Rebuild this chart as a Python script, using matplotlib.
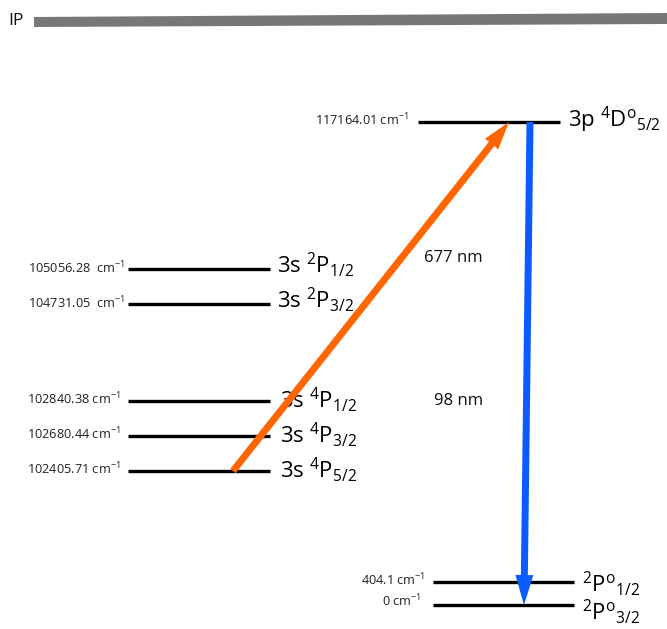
import matplotlib
matplotlib.use("Agg")
import matplotlib.pyplot as plt
from matplotlib.patches import Polygon, FancyArrow

plt.rcParams['font.family'] = ['Open Sans', 'DejaVu Sans']
plt.rcParams['mathtext.fontset'] = 'custom'
plt.rcParams['mathtext.rm'] = 'Open Sans'
plt.rcParams['mathtext.it'] = 'Open Sans:italic'
plt.rcParams['mathtext.bf'] = 'Open Sans:bold'

# Energy levels (cm^-1) and their term symbols
energies = ["117164.01", "105056.28", "104731.05", "102840.38",
            "102680.44", "102405.71", "404.1", "0"]
energy_sep = [" ", "  ", "  ", " ", " ", " ", " ", " "]
terms = [r"3p $^{4}$D$^{\mathrm{o}}$$_{5/2}$",
         r"3s $^{2}$P$_{1/2}$", r"3s $^{2}$P$_{3/2}$",
         r"3s $^{4}$P$_{1/2}$", r"3s $^{4}$P$_{3/2}$", r"3s $^{4}$P$_{5/2}$",
         r"$^{2}$P$^{\mathrm{o}}$$_{1/2}$", r"$^{2}$P$^{\mathrm{o}}$$_{3/2}$"]
wavelengths = ["677 nm", "98 nm"]
# transitions: (lower level index, upper level index)
transitions = [(5, 0), (0, 7)]

# Diagram layout (pixel-like canvas units)
level_y = [122, 269, 304, 401, 436, 471, 582, 605]
level_x = [(418, 560), (128, 270), (128, 270), (128, 270),
           (128, 270), (128, 270), (433, 574), (433, 574)]
energy_x = [408, 125, 125, 120, 120, 120, 425, 421]
energy_dy = [3, 4, 4, 3, 3, 3, 3, 1]
term_x = [568, 277, 277, 280, 280, 280, 582, 582]
term_dy = [5, 4, 4, 7, 7, 7, 10, 15]

fig = plt.figure(figsize=(6.67, 6.29), dpi=100)
ax = fig.add_axes([0, 0, 1, 1])
ax.set_xlim(0, 667)
ax.set_ylim(629, 0)
ax.axis('off')

# ionisation potential
ax.add_patch(Polygon([(34, 17), (667, 13), (667, 24), (34, 27)],
                     closed=True, facecolor='#777777', edgecolor='none'))
ax.text(8, 21, "IP", fontsize=12.5, va='center', ha='left', color='#111111')

for i, e in enumerate(energies):
    y = level_y[i]
    x0, x1 = level_x[i]
    ax.plot([x0, x1], [y, y], color='black', lw=2.4, solid_capstyle='butt',
            zorder=2)
    ax.text(energy_x[i], y + energy_dy[i], e + energy_sep[i] + r"cm$^{-1}$",
            fontsize=9.2, ha='right', va='baseline', color='#222222')
    ax.text(term_x[i], y + term_dy[i], terms[i], fontsize=16,
            ha='left', va='baseline', color='black')

# absorption (orange) and emission (blue) arrows
lo, up = transitions[0]
xs, ys = 233, level_y[lo]
xe, ye = 509, level_y[up]
ax.add_patch(FancyArrow(xs, ys, xe - xs, ye - ys, width=7, head_width=17,
                        head_length=28, length_includes_head=True,
                        color='#ff6600', lw=0, zorder=3))
up, lo = transitions[1]
xs, ys = 530, level_y[up]
xe, ye = 524, level_y[lo]
ax.add_patch(FancyArrow(xs, ys, xe - xs, ye - ys, width=7, head_width=18,
                        head_length=30, length_includes_head=True,
                        color='#0a5cff', lw=0, zorder=3))

ax.text(424, 258, wavelengths[0], fontsize=12, ha='left', va='center',
        color='#111111')
ax.text(434, 401, wavelengths[1], fontsize=12, ha='left', va='center',
        color='#111111')

fig.savefig("out.png", dpi=100)
